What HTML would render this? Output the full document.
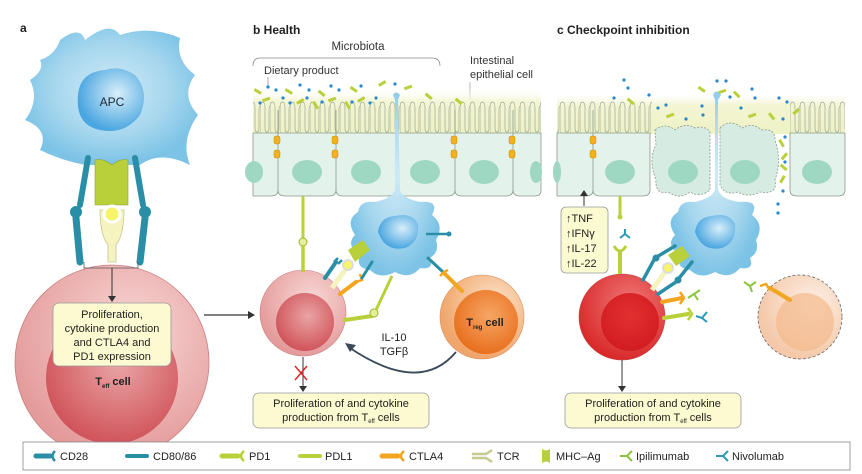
<!DOCTYPE html>
<html><head><meta charset="utf-8"><style>
body{margin:0;background:#fff}
svg{display:block;font-family:"Liberation Sans",sans-serif}
</style></head><body>
<svg width="862" height="474" viewBox="0 0 862 474" xmlns="http://www.w3.org/2000/svg">
<defs>
<radialGradient id="apc" cx="50%" cy="45%" r="55%"><stop offset="0" stop-color="#cfeaf6"/><stop offset="0.6" stop-color="#a7d7ee"/><stop offset="1" stop-color="#7cc3e6"/></radialGradient>
<radialGradient id="nuc" cx="60%" cy="40%" r="60%"><stop offset="0" stop-color="#d8eefa"/><stop offset="1" stop-color="#4aa6e0"/></radialGradient>
<radialGradient id="teff" cx="60%" cy="35%" r="65%"><stop offset="0" stop-color="#f7d8d6"/><stop offset="1" stop-color="#e49a9a"/></radialGradient>
<radialGradient id="teffin" cx="55%" cy="40%" r="60%"><stop offset="0" stop-color="#eaa4a4"/><stop offset="1" stop-color="#d0545b"/></radialGradient>
<radialGradient id="treg" cx="65%" cy="35%" r="65%"><stop offset="0" stop-color="#fde4cc"/><stop offset="1" stop-color="#f0a56a"/></radialGradient>
<radialGradient id="tregin" cx="55%" cy="40%" r="60%"><stop offset="0" stop-color="#f6a664"/><stop offset="1" stop-color="#e8701f"/></radialGradient>
<radialGradient id="tred" cx="60%" cy="35%" r="65%"><stop offset="0" stop-color="#f07878"/><stop offset="1" stop-color="#d92a2a"/></radialGradient>
<radialGradient id="tredin" cx="50%" cy="40%" r="60%"><stop offset="0" stop-color="#e23030"/><stop offset="1" stop-color="#d21c22"/></radialGradient>
<radialGradient id="tfade" cx="65%" cy="35%" r="65%"><stop offset="0" stop-color="#fdf0e6"/><stop offset="1" stop-color="#f4c8a8"/></radialGradient>
<linearGradient id="lum" x1="0" y1="0" x2="0" y2="1"><stop offset="0" stop-color="#fff" stop-opacity="0"/><stop offset="0.3" stop-color="#f4f5d4"/><stop offset="1" stop-color="#eef2c4"/></linearGradient>
<pattern id="villi" x="0" y="100" width="10" height="40" patternUnits="userSpaceOnUse">
<path d="M0 40 V8 Q0 2 2.5 2 Q5 2 5 8 V28 Q5 32 7 32 Q9 32 9 28 V10 Q9 6 10 6" fill="none" stroke="#9aa898" stroke-width="0.7"/>
</pattern>
</defs>

<!-- Panel a -->
<text x="20" y="32" font-size="12" font-weight="bold" fill="#222">a</text>
<path d="M60 40 Q80 25 85 40 Q110 20 120 35 Q150 25 180 38 Q175 60 195 75 Q180 95 198 115 Q180 140 190 165 Q160 150 140 165 L85 165 Q60 160 40 150 Q50 130 25 120 Q40 100 30 80 Q45 70 40 60 Q55 55 60 40Z" fill="url(#apc)"/>
<path d="M78 95 Q80 72 105 70 Q120 65 135 75 Q150 92 140 115 Q125 135 100 130 Q75 125 78 95Z" fill="url(#nuc)"/>
<text x="112" y="106" font-size="12" text-anchor="middle" fill="#1b2a3a">APC</text>
<path d="M95 160 L95 205 L128 205 L128 160 Q120 158 112 165 Q104 158 95 160Z" fill="#b9d03a" stroke="#8ea52a" stroke-width="0.6"/>
<path d="M100 210 Q100 235 108 245 L108 262 L116 262 L116 245 Q124 235 124 210 Z" fill="#f5f4c0" stroke="#c8c890" stroke-width="0.8"/>
<circle cx="112" cy="214" r="8" fill="#f7f46a" stroke="#fff" stroke-width="3"/>
<path d="M88 158 L80 205" stroke="#2a8fa6" stroke-width="6" stroke-linecap="round"/>
<circle cx="76" cy="212" r="6" fill="#2a8fa6"/>
<path d="M76 218 L80 262" stroke="#2a8fa6" stroke-width="7" stroke-linecap="round"/>
<path d="M135 158 L143 205" stroke="#2a8fa6" stroke-width="6" stroke-linecap="round"/>
<circle cx="145" cy="212" r="6" fill="#2a8fa6"/>
<path d="M145 218 L140 262" stroke="#2a8fa6" stroke-width="7" stroke-linecap="round"/>
<circle cx="112" cy="362" r="97" fill="url(#teff)" stroke="#c98080" stroke-width="0.8"/>
<circle cx="112" cy="378" r="66" fill="url(#teffin)"/>
<path d="M84 262 V268 H138 V262" fill="none" stroke="#555" stroke-width="0.8"/>
<line x1="112" y1="268" x2="112" y2="298" stroke="#333" stroke-width="1"/>
<path d="M108 296 L112 302 L116 296Z" fill="#333"/>
<rect x="53" y="303" width="118" height="63" rx="6" fill="#fbfad0" stroke="#999" stroke-width="0.8"/>
<g font-size="11" text-anchor="middle" fill="#222">
<text x="112" y="318">Proliferation,</text>
<text x="112" y="332">cytokine production</text>
<text x="112" y="346">and CTLA4 and</text>
<text x="112" y="360">PD1 expression</text>
</g>
<text x="113" y="385" font-size="11" font-weight="bold" text-anchor="middle" fill="#222">T<tspan font-size="6" dy="3">eff</tspan><tspan dy="-3"> cell</tspan></text>
<line x1="204" y1="315" x2="250" y2="315" stroke="#333" stroke-width="1.2"/>
<path d="M248 311 L255 315 L248 319Z" fill="#333"/>

<!-- Panel b -->
<text x="253" y="34" font-size="12" font-weight="bold" fill="#222">b  Health</text>
<text x="358" y="50" font-size="11.5" text-anchor="middle" fill="#333">Microbiota</text>
<path d="M253 66 Q253 58 260 58 H432 Q440 58 440 66" fill="none" stroke="#888" stroke-width="0.8"/>
<text x="264" y="74" font-size="11" fill="#333">Dietary product</text>
<line x1="268" y1="77" x2="268" y2="86" stroke="#777" stroke-width="0.6"/>
<text x="470" y="64" font-size="11" fill="#333">Intestinal</text>
<text x="470" y="78" font-size="11" fill="#333">epithelial cell</text>
<line x1="470" y1="82" x2="470" y2="110" stroke="#888" stroke-width="0.6"/>
<rect x="253" y="88" width="288" height="45" fill="url(#lum)"/>
<rect x="253" y="100" width="288" height="35" fill="url(#villi)"/>
<path d="M253 133 H541 V190 Q541 196 535 196 H520 Q513 196 513 190 Q513 196 506 196 H462 Q455 196 455 190 Q455 196 448 196 H404 Q400 196 398 190 Q394 196 388 196 H343 Q336 196 336 190 Q336 196 329 196 H285 Q278 196 278 190 Q278 196 271 196 H253Z" fill="#e3f2ea" stroke="#8a9a88" stroke-width="0.8"/>
<g stroke="#8a9a88" stroke-width="0.8"><line x1="278" y1="110" x2="278" y2="190"/><line x1="336" y1="110" x2="336" y2="190"/><line x1="455" y1="110" x2="455" y2="190"/><line x1="513" y1="110" x2="513" y2="190"/></g>
<g fill="#9fd8c2"><ellipse cx="254" cy="172" rx="9" ry="11"/><ellipse cx="307" cy="172" rx="15" ry="12"/><ellipse cx="366" cy="172" rx="15" ry="12"/><ellipse cx="425" cy="172" rx="15" ry="12"/><ellipse cx="484" cy="172" rx="15" ry="12"/><ellipse cx="536" cy="172" rx="6" ry="11"/></g>
<g fill="#f2b21e" stroke="#c98a10" stroke-width="0.5"><rect x="274" y="136" width="6" height="8" rx="2"/><rect x="274" y="150" width="6" height="8" rx="2"/><rect x="332" y="136" width="6" height="8" rx="2"/><rect x="332" y="150" width="6" height="8" rx="2"/><rect x="451" y="136" width="6" height="8" rx="2"/><rect x="451" y="150" width="6" height="8" rx="2"/><rect x="509" y="136" width="6" height="8" rx="2"/><rect x="509" y="150" width="6" height="8" rx="2"/></g>
<g fill="#b9d03a"><rect x="254" y="90" width="8" height="3" transform="rotate(30 258 91)"/><rect x="285" y="90" width="8" height="3" transform="rotate(30 289 91)"/><rect x="318" y="92" width="8" height="3" transform="rotate(40 322 93)"/><rect x="350" y="88" width="8" height="3" transform="rotate(35 354 89)"/><rect x="378" y="82" width="8" height="3" transform="rotate(-30 382 83)"/><rect x="262" y="98" width="8" height="3" transform="rotate(-20 266 99)"/><rect x="296" y="100" width="8" height="3" transform="rotate(-30 300 101)"/><rect x="328" y="98" width="8" height="3" transform="rotate(-20 332 99)"/><rect x="357" y="98" width="8" height="3" transform="rotate(-30 361 99)"/><rect x="404" y="86" width="8" height="3" transform="rotate(-20 408 87)"/><rect x="425" y="95" width="8" height="3" transform="rotate(40 429 96)"/><rect x="455" y="100" width="8" height="3" transform="rotate(40 459 101)"/><rect x="312" y="104" width="8" height="3" transform="rotate(60 316 105)"/><rect x="344" y="104" width="8" height="3" transform="rotate(60 348 105)"/></g>
<g fill="#2a88c8"><circle cx="268" cy="87" r="1.6"/><circle cx="276" cy="90" r="1.6"/><circle cx="300" cy="85" r="1.6"/><circle cx="309" cy="90" r="1.6"/><circle cx="331" cy="86" r="1.6"/><circle cx="339" cy="90" r="1.6"/><circle cx="361" cy="86" r="1.6"/><circle cx="376" cy="98" r="1.6"/><circle cx="395" cy="84" r="1.6"/><circle cx="283" cy="98" r="1.6"/><circle cx="260" cy="103" r="1.6"/><circle cx="290" cy="103" r="1.6"/><circle cx="322" cy="102" r="1.6"/><circle cx="352" cy="102" r="1.6"/><circle cx="370" cy="103" r="1.6"/><circle cx="307" cy="98" r="1.6"/></g>
<path d="M393 95 Q396 90 400 95 L398 100 L400 190 Q402 198 420 202 Q440 200 432 215 Q445 225 436 240 Q440 252 430 258 Q435 270 420 268 Q410 280 395 272 Q380 280 370 270 Q355 268 360 255 Q345 245 355 235 Q345 220 358 212 Q360 200 375 202 Q392 198 395 190 L395 100Z" fill="url(#apc)"/>
<path d="M378 232 Q380 217 395 216 Q412 212 418 224 Q420 242 405 248 Q385 252 378 232Z" fill="url(#nuc)"/>
<line x1="426" y1="234" x2="448" y2="234" stroke="#2a8fa6" stroke-width="2.5"/><circle cx="449" cy="234" r="2.5" fill="#2a8fa6"/>
<circle cx="303" cy="313" r="43" fill="url(#teff)" stroke="#c98080" stroke-width="0.6"/>
<circle cx="305" cy="322" r="29" fill="url(#teffin)"/>
<line x1="303" y1="196" x2="303" y2="240" stroke="#b9d03a" stroke-width="3"/>
<circle cx="303" cy="242" r="4" fill="#e8ef9a" stroke="#9db22c" stroke-width="1"/>
<line x1="303" y1="246" x2="303" y2="272" stroke="#b9d03a" stroke-width="3.5"/>
<path d="M325 278 L336 262" stroke="#2a8fa6" stroke-width="4" stroke-linecap="round"/>
<path d="M334 262 L338 258 M338 264 L342 260" stroke="#2a8fa6" stroke-width="2.5"/>
<path d="M348 250 L363 240 L370 250 L355 262Z" fill="#b9d03a"/>
<path d="M332 288 L348 266" stroke="#f5f4c0" stroke-width="5"/>
<circle cx="348" cy="265" r="5" fill="#f7f46a" stroke="#ddd" stroke-width="2"/>
<path d="M340 294 L356 282" stroke="#f2a51e" stroke-width="4" stroke-linecap="round"/>
<path d="M356 282 L362 280 L360 274" stroke="#f2a51e" stroke-width="2.5" fill="none"/>
<path d="M362 278 L372 262" stroke="#2a8fa6" stroke-width="3" stroke-linecap="round"/>
<path d="M345 320 L372 316" stroke="#b9d03a" stroke-width="4" stroke-linecap="round"/>
<circle cx="374" cy="313" r="4" fill="#e8ef9a" stroke="#9db22c"/>
<path d="M376 310 L392 276" stroke="#b9d03a" stroke-width="3"/>
<circle cx="482" cy="317" r="42" fill="url(#treg)" stroke="#d69060" stroke-width="0.6"/>
<circle cx="486" cy="322" r="32" fill="url(#tregin)"/>
<text x="485" y="326" font-size="11" font-weight="bold" text-anchor="middle" fill="#222">T<tspan font-size="6" dy="3">reg</tspan><tspan dy="-3"> cell</tspan></text>
<path d="M428 258 L443 272" stroke="#2a8fa6" stroke-width="3" stroke-linecap="round"/>
<path d="M445 274 L462 291" stroke="#f2a51e" stroke-width="4" stroke-linecap="round"/>
<path d="M440 276 L444 272 L448 270" stroke="#f2a51e" stroke-width="2.5" fill="none"/>
<path d="M456 352 Q420 395 350 348" fill="none" stroke="#3a4a5a" stroke-width="1.8"/>
<path d="M345 343 L356 345 L350 352Z" fill="#3a4a5a"/>
<text x="394" y="341" font-size="11" text-anchor="middle" fill="#222">IL-10</text>
<text x="394" y="355" font-size="11" text-anchor="middle" fill="#222">TGFβ</text>
<line x1="303" y1="357" x2="303" y2="388" stroke="#333" stroke-width="1"/>
<path d="M299 386 L303 392 L307 386Z" fill="#333"/>
<path d="M295 366 L307 380 M307 366 L295 380" stroke="#e02020" stroke-width="1.4"/>
<rect x="253" y="393" width="176" height="35" rx="6" fill="#fbfad0" stroke="#999" stroke-width="0.8"/>
<text x="341" y="407" font-size="11" text-anchor="middle" fill="#222">Proliferation of and cytokine</text>
<text x="341" y="421" font-size="11" text-anchor="middle" fill="#222">production from T<tspan font-size="6" dy="2">eff</tspan><tspan dy="-2"> cells</tspan></text>

<!-- Panel c -->
<text x="557" y="34" font-size="12" font-weight="bold" fill="#222">c  Checkpoint inhibition</text>
<rect x="557" y="92" width="288" height="42" fill="url(#lum)"/>
<rect x="557" y="100" width="95" height="35" fill="url(#villi)"/>
<rect x="790" y="100" width="55" height="35" fill="url(#villi)"/>
<path d="M557 133 H650 V190 Q650 196 643 196 H600 Q593 196 593 190 Q593 196 586 196 H557Z" fill="#e3f2ea" stroke="#8a9a88" stroke-width="0.8"/>
<line x1="593" y1="110" x2="593" y2="190" stroke="#8a9a88" stroke-width="0.8"/>
<path d="M790 133 H845 V190 Q845 196 838 196 H797 Q790 196 790 190Z" fill="#e3f2ea" stroke="#8a9a88" stroke-width="0.8"/>
<g fill="#d6ece3" stroke="#8a9a88" stroke-width="0.8" stroke-dasharray="2 1.5">
<path d="M655 130 Q665 122 675 130 Q685 122 695 128 Q705 125 710 132 L710 190 Q700 198 690 192 Q680 200 668 192 Q655 195 656 180 Q648 160 656 145Z"/>
<path d="M720 128 Q730 118 742 128 Q752 122 762 130 Q775 128 775 140 Q782 160 775 180 Q778 195 760 192 Q748 198 738 192 Q725 196 720 185Z"/>
</g>
<g fill="#9fd8c2"><ellipse cx="557" cy="172" rx="4" ry="11"/><ellipse cx="620" cy="172" rx="15" ry="12"/><ellipse cx="683" cy="172" rx="15" ry="12"/><ellipse cx="745" cy="172" rx="15" ry="12"/><ellipse cx="817" cy="172" rx="15" ry="12"/></g>
<g fill="#f2b21e" stroke="#c98a10" stroke-width="0.5"><rect x="590" y="136" width="6" height="8" rx="2"/><rect x="590" y="150" width="6" height="8" rx="2"/></g>
<g fill="#b9d03a"><rect x="627" y="100" width="8" height="3" transform="rotate(40 631 101)"/><rect x="666" y="114" width="8" height="3" transform="rotate(-20 670 115)"/><rect x="698" y="88" width="8" height="3" transform="rotate(35 702 89)"/><rect x="718" y="90" width="8" height="3" transform="rotate(-20 722 91)"/><rect x="733" y="93" width="8" height="3" transform="rotate(45 737 94)"/><rect x="748" y="114" width="8" height="3" transform="rotate(-20 752 115)"/><rect x="768" y="115" width="8" height="3" transform="rotate(50 772 116)"/><rect x="792" y="110" width="8" height="3" transform="rotate(-40 796 111)"/><rect x="778" y="142" width="8" height="3" transform="rotate(60 782 143)"/><rect x="780" y="155" width="8" height="3" transform="rotate(-50 784 156)"/><rect x="780" y="166" width="8" height="3" transform="rotate(40 784 167)"/><rect x="778" y="178" width="8" height="3" transform="rotate(-60 782 179)"/></g>
<g fill="#2a88c8"><circle cx="624" cy="80" r="1.6"/><circle cx="628" cy="88" r="1.6"/><circle cx="614" cy="98" r="1.6"/><circle cx="649" cy="95" r="1.6"/><circle cx="658" cy="108" r="1.6"/><circle cx="666" cy="105" r="1.6"/><circle cx="686" cy="119" r="1.6"/><circle cx="702" cy="106" r="1.6"/><circle cx="703" cy="115" r="1.6"/><circle cx="717" cy="81" r="1.6"/><circle cx="726" cy="81" r="1.6"/><circle cx="730" cy="97" r="1.6"/><circle cx="752" cy="89" r="1.6"/><circle cx="755" cy="98" r="1.6"/><circle cx="741" cy="108" r="1.6"/><circle cx="779" cy="98" r="1.6"/><circle cx="787" cy="102" r="1.6"/><circle cx="783" cy="119" r="1.6"/><circle cx="785" cy="137" r="1.6"/><circle cx="785" cy="162" r="1.6"/><circle cx="783" cy="191" r="1.6"/><circle cx="778" cy="204" r="1.6"/><circle cx="778" cy="213" r="1.6"/></g>
<path d="M713 95 Q716 88 721 95 L718 100 L718 190 Q722 200 740 202 Q760 200 752 215 Q765 225 756 240 Q760 252 750 258 Q755 270 740 268 Q730 280 715 272 Q700 280 690 270 Q675 268 680 255 Q665 245 675 235 Q665 220 678 212 Q680 200 695 202 Q712 198 715 190 L715 100Z" fill="url(#apc)"/>
<path d="M695 232 Q697 217 712 216 Q729 212 735 224 Q737 242 722 248 Q702 252 695 232Z" fill="url(#nuc)"/>
<line x1="584" y1="206" x2="584" y2="194" stroke="#333" stroke-width="1"/>
<path d="M580 196 L584 190 L588 196Z" fill="#333"/>
<rect x="561" y="207" width="47" height="66" rx="5" fill="#fbfad0" stroke="#999" stroke-width="0.8"/>
<g font-size="11" fill="#222"><text x="566" y="222">↑TNF</text><text x="566" y="237">↑IFNγ</text><text x="566" y="252">↑IL-17</text><text x="566" y="267">↑IL-22</text></g>
<line x1="620" y1="196" x2="620" y2="215" stroke="#b9d03a" stroke-width="3"/><circle cx="620" cy="217" r="2.5" fill="#b9d03a"/>
<circle cx="622" cy="317" r="43" fill="url(#tred)" stroke="#c04040" stroke-width="0.6"/>
<circle cx="630" cy="322" r="29" fill="url(#tredin)"/>
<line x1="620" y1="274" x2="620" y2="250" stroke="#b9d03a" stroke-width="4"/>
<path d="M614 246 Q620 256 626 246" stroke="#b9d03a" stroke-width="3" fill="none"/>
<path d="M620 238 L625 234 M625 234 L630 238 M625 234 L625 229" stroke="#2a9ab8" stroke-width="2" fill="none"/>
<path d="M643 280 L655 258 L675 246" stroke="#2a8fa6" stroke-width="3.5" fill="none" stroke-linecap="round"/>
<circle cx="656" cy="258" r="3.5" fill="#2a8fa6"/>
<path d="M668 255 L682 246 L690 256 L676 266Z" fill="#b9d03a"/>
<path d="M652 290 L668 268" stroke="#f5f4c0" stroke-width="5"/>
<circle cx="668" cy="268" r="5" fill="#f7f46a" stroke="#ddd" stroke-width="2"/>
<path d="M658 294 L676 282 L692 262" stroke="#2a8fa6" stroke-width="3.5" fill="none" stroke-linecap="round"/>
<circle cx="678" cy="280" r="3.5" fill="#2a8fa6"/>
<path d="M662 302 L682 298" stroke="#f2a51e" stroke-width="4" stroke-linecap="round"/>
<path d="M680 292 L684 298 L680 304" stroke="#f2a51e" stroke-width="2.5" fill="none"/>
<path d="M688 298 L694 294 M694 294 L700 290 M694 294 L698 300" stroke="#8cc43a" stroke-width="2" fill="none"/>
<path d="M664 318 L688 314" stroke="#b9d03a" stroke-width="4" stroke-linecap="round"/>
<path d="M688 308 L692 314 L688 320" stroke="#b9d03a" stroke-width="2.5" fill="none"/>
<path d="M696 316 L702 318 M702 318 L707 312 M702 318 L707 322" stroke="#2a9ab8" stroke-width="2" fill="none"/>
<circle cx="800" cy="317" r="42" fill="url(#tfade)" stroke="#666" stroke-width="0.8" stroke-dasharray="3 2"/>
<circle cx="805" cy="322" r="29" fill="#f3b98c" opacity="0.7"/>
<path d="M770 288 L790 300" stroke="#f2a51e" stroke-width="4" stroke-linecap="round"/>
<path d="M760 286 L766 284 L770 290" stroke="#f2a51e" stroke-width="2.5" fill="none"/>
<path d="M744 282 L750 286 M750 286 L756 282 M750 286 L752 292" stroke="#8cc43a" stroke-width="2" fill="none"/>
<line x1="622" y1="360" x2="622" y2="388" stroke="#333" stroke-width="1"/>
<path d="M618 386 L622 392 L626 386Z" fill="#333"/>
<rect x="565" y="393" width="176" height="35" rx="6" fill="#fbfad0" stroke="#999" stroke-width="0.8"/>
<text x="653" y="407" font-size="11" text-anchor="middle" fill="#222">Proliferation of and cytokine</text>
<text x="653" y="421" font-size="11" text-anchor="middle" fill="#222">production from T<tspan font-size="6" dy="2">eff</tspan><tspan dy="-2"> cells</tspan></text>

<rect x="23" y="442" width="827" height="28" fill="#fff" stroke="#888" stroke-width="0.8"/>
<g font-size="11" fill="#222">
<path d="M36 456 H50" stroke="#2a8fa6" stroke-width="5" stroke-linecap="round"/><path d="M55 451 Q50 456 55 461" stroke="#2a8fa6" stroke-width="2.5" fill="none"/><text x="60" y="460">CD28</text>
<path d="M127 456 H147" stroke="#2a8fa6" stroke-width="4" stroke-linecap="round"/><text x="153" y="460">CD80/86</text>
<path d="M222 456 H238" stroke="#b9d03a" stroke-width="5" stroke-linecap="round"/><path d="M244 451 Q238 456 244 461" stroke="#b9d03a" stroke-width="2.5" fill="none"/><text x="249" y="460">PD1</text>
<path d="M300 456 H320" stroke="#b9d03a" stroke-width="4" stroke-linecap="round"/><text x="325" y="460">PDL1</text>
<path d="M382 456 H398" stroke="#f2a51e" stroke-width="5" stroke-linecap="round"/><path d="M404 451 Q398 456 404 461" stroke="#f2a51e" stroke-width="2.5" fill="none"/><text x="409" y="460">CTLA4</text>
<path d="M472 454 H486 L492 450 M472 458 H486 L492 462" stroke="#c8c890" stroke-width="2.5" fill="none"/><text x="497" y="460">TCR</text>
<path d="M542 449 Q546 452 550 449 V463 Q546 460 542 463Z" fill="#b9d03a"/><text x="556" y="460">MHC–Ag</text>
<path d="M620 456 H627 L632 451 M627 456 L632 461" stroke="#8cc43a" stroke-width="2" fill="none"/><text x="636" y="460">Ipilimumab</text>
<path d="M716 456 H723 L728 451 M723 456 L728 461" stroke="#2a9ab8" stroke-width="2" fill="none"/><text x="732" y="460">Nivolumab</text>
</g>
</svg>
</body></html>
